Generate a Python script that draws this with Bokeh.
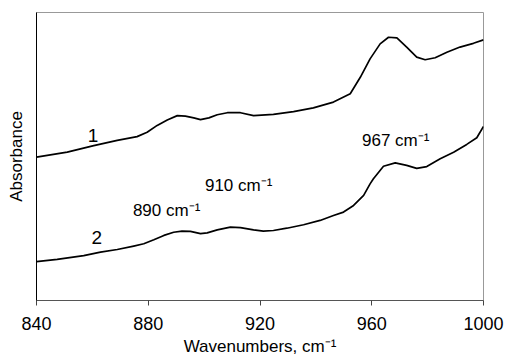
from bokeh.plotting import figure
from bokeh.models import Range1d, FixedTicker
from bokeh.core.properties import value
from bokeh.embed import file_html
from bokeh.resources import INLINE

# Spectrum 1 (upper trace)
wn1 = [840, 851, 860.5, 868.9, 876, 879.6, 883.2, 886.8, 890.4, 893.3, 896.3, 898.7,
       901.7, 904.7, 908.3, 913, 917.7, 924.8, 932, 939.1, 946.3, 952.3, 955.9, 959.4,
       963, 966, 969, 972.5, 976.1, 979.1, 982.7, 986.9, 991.6, 996.4, 1000]
abs1 = [0.498, 0.515, 0.538, 0.556, 0.569, 0.584, 0.608, 0.627, 0.642, 0.640, 0.634, 0.628,
        0.634, 0.645, 0.652, 0.652, 0.642, 0.646, 0.656, 0.669, 0.689, 0.718, 0.775, 0.839,
        0.891, 0.914, 0.912, 0.880, 0.845, 0.836, 0.843, 0.862, 0.880, 0.893, 0.905]

# Spectrum 2 (lower trace)
wn2 = [840, 847.4, 856.9, 862.9, 868.9, 874.8, 878.4, 882, 885.6, 889.1, 892.1, 895.1,
       898.7, 901.1, 904.7, 909.4, 913, 917.7, 921.2, 924.8, 929.6, 935.6, 941.5, 946.3,
       949.9, 953.5, 957.1, 959.4, 960.6, 964.2, 968.4, 972.5, 976.1, 979.7, 984.5, 989.3,
       994, 997.6, 1000]
abs2 = [0.135, 0.143, 0.156, 0.168, 0.177, 0.189, 0.197, 0.211, 0.226, 0.237, 0.241, 0.240,
        0.232, 0.235, 0.245, 0.255, 0.253, 0.245, 0.241, 0.243, 0.251, 0.263, 0.278, 0.295,
        0.307, 0.330, 0.365, 0.405, 0.423, 0.466, 0.478, 0.469, 0.459, 0.465, 0.492, 0.515,
        0.542, 0.565, 0.604]

x_ticks = [840, 880, 920, 960, 1000]

# Band annotations
band_labels = ["890 cm\u207b\u00b9", "910 cm\u207b\u00b9", "967 cm\u207b\u00b9"]
band_x = [874.5, 900.3, 956.5]
band_y = [0.3125, 0.399, 0.556]

curve_labels = ["1", "2"]
curve_label_x = [860.2, 861.6]
curve_label_y = [0.573, 0.219]

FONT = "Liberation Sans"

p = figure(width=506, height=359, output_backend="svg", toolbar_location=None,
           x_range=Range1d(840, 1000), y_range=Range1d(0, 1),
           min_border_left=36, min_border_top=12, min_border_right=23, min_border_bottom=59)

p.line(wn1, abs1, line_color="black", line_width=1.7, line_join="round")
p.line(wn2, abs2, line_color="black", line_width=1.7, line_join="round")

p.text(band_x, band_y, text=band_labels, text_font=value(FONT), text_font_size="17px",
       text_align="left", text_baseline="middle", text_color="black")
p.text(curve_label_x, curve_label_y, text=curve_labels, text_font=value(FONT),
       text_font_size="19px", text_align="center", text_baseline="middle", text_color="black")

p.xgrid.visible = False
p.ygrid.visible = False
p.outline_line_color = "#999999"
p.outline_line_width = 1

xa = p.xaxis[0]
xa.ticker = FixedTicker(ticks=x_ticks)
xa.minor_tick_line_color = None
xa.major_tick_in = 0
xa.major_tick_out = 5
xa.major_tick_line_color = "#444444"
xa.axis_line_color = "#555555"
xa.major_label_text_font = FONT
xa.major_label_text_font_size = "18px"
xa.major_label_text_color = "black"
xa.major_label_standoff = 11
xa.axis_label = "Wavenumbers, cm\u207b\u00b9"
xa.axis_label_text_font = FONT
xa.axis_label_text_font_size = "17px"
xa.axis_label_text_font_style = "normal"
xa.axis_label_text_color = "black"
xa.axis_label_standoff = 4

ya = p.yaxis[0]
ya.ticker = FixedTicker(ticks=[])
ya.minor_tick_line_color = None
ya.major_tick_line_color = None
ya.axis_line_color = "black"
ya.axis_label = "Absorbance"
ya.axis_label_text_font = FONT
ya.axis_label_text_font_size = "17px"
ya.axis_label_text_font_style = "normal"
ya.axis_label_text_color = "black"
ya.axis_label_standoff = 11

open("out.html", "w").write(file_html(p, INLINE))
